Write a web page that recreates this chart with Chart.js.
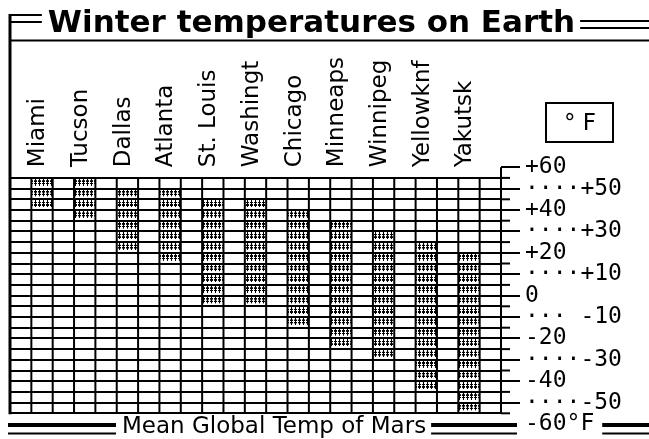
<!DOCTYPE html>
<html>
<head>
<meta charset="utf-8">
<script src="https://cdn.jsdelivr.net/npm/chart.js@4.4.1/dist/chart.umd.min.js"></script>
<style>
  html, body { margin: 0; padding: 0; background: #fff; }
  #wrap { width: 649px; height: 439px; }
</style>
</head>
<body>
<div id="wrap"><canvas id="chart"></canvas></div>
<script>
// data (deg F): each bar hangs from winterHigh down to winterLow
const cities = ['Miami', 'Tucson', 'Dallas', 'Atlanta', 'St. Louis', 'Washingt', 'Chicago', 'Minneaps', 'Winnipeg', 'Yellowknf', 'Yakutsk'];
const winterHigh = [55, 55, 50, 50, 45, 45, 40, 35, 30, 25, 20];
const winterLow = [40, 35, 20, 15, -5, -5, -15, -25, -30, -45, -55];
const tickValues = [60, 50, 40, 30, 20, 10, 0, -10, -20, -30, -40, -50, -60];
const tickLabels = ['+60', '····+50', '+40', '····+30', '+20', '····+10', '0', '··· -10', '-20', '····-30', '-40', '····-50', '-60°F'];
const marsTemp = -60;
const marsLabel = 'Mean Global Temp of Mars';
const unitLabel = '° F';
const titleText = 'Winter temperatures on Earth';

const gridTop = 55, gridBottom = -55;
const cols = cities.length * 2 + 1;
const labelFont = 'DejaVu Sans';
const monoFont = 'DejaVu Sans Mono';

function hatch(context) {
  const chart = context.chart;
  const xs = chart.scales.x, ys = chart.scales.y;
  if (!xs || !ys) return '#888';
  const rowH = ys.getPixelForValue(gridTop - 5) - ys.getPixelForValue(gridTop);
  const t = document.createElement('canvas');
  t.width = 4; t.height = 30;
  const c = t.getContext('2d');
  c.fillStyle = '#000';
  c.fillRect(1, 2, 1, 20);
  c.fillRect(0, 7, 3, 4);
  c.fillRect(0, 14, 3, 4);
  const p = chart.ctx.createPattern(t, 'repeat');
  p.setTransform(new DOMMatrix().translate(xs.getPixelForValue(0), ys.getPixelForValue(gridTop)).scale(1, rowH / 30));
  return p;
}

function line(ctx, x1, y1, x2, y2, w) {
  ctx.lineWidth = w;
  ctx.beginPath();
  ctx.moveTo(x1, y1);
  ctx.lineTo(x2, y2);
  ctx.stroke();
}

const frame = {
  id: 'frame',
  afterLayout(chart) {
    // the title sits a little left of the page centre
    chart.titleBlock.right -= 36;
  },
  beforeDraw(chart) {
    const ctx = chart.ctx;
    ctx.save();
    ctx.fillStyle = '#fff';
    ctx.fillRect(0, 0, chart.width, chart.height);
    ctx.restore();
  },
  afterDatasetsDraw(chart) {
    const {ctx, chartArea} = chart;
    const xs = chart.scales.x, ys = chart.scales.y;
    const top = ys.getPixelForValue(gridTop), bot = ys.getPixelForValue(gridBottom);
    ctx.save();
    ctx.strokeStyle = '#000';
    // column lines
    for (let k = 1; k < cols; k++) {
      const px = xs.getPixelForValue(k);
      line(ctx, px, top, px, bot, 2);
    }
    // axis line from +60 down
    line(ctx, chartArea.right, ys.getPixelForValue(60), chartArea.right, bot, 2);
    // short ticks on the in-between grid lines
    for (let v = gridBottom; v <= gridTop; v += 10) {
      const py = ys.getPixelForValue(v);
      line(ctx, chartArea.right, py, chartArea.right + 9, py, 2);
    }
    ctx.restore();
  },
  afterDraw(chart) {
    const {ctx, chartArea, width} = chart;
    const ys = chart.scales.y;
    const bot = ys.getPixelForValue(gridBottom);
    ctx.save();
    ctx.strokeStyle = '#000';
    ctx.fillStyle = '#000';

    // title rules
    const tb = chart.titleBlock;
    ctx.font = 'bold 31px ' + labelFont;
    const tw = ctx.measureText(titleText).width;
    const tcx = (tb.left + tb.right) / 2;
    line(ctx, chartArea.left - 1, 15, tcx - tw / 2 - 6, 15, 2);
    line(ctx, chartArea.left, 22, tcx - tw / 2 - 6, 22, 2);
    line(ctx, tcx + tw / 2 + 5, 21, width, 21, 2);
    line(ctx, tcx + tw / 2 + 5, 28, width, 28, 2);
    line(ctx, chartArea.left, 40.5, width, 40.5, 2);
    // left border
    line(ctx, chartArea.left, 14, chartArea.left, bot + 1, 3);

    // unit box
    ctx.lineWidth = 2;
    ctx.strokeRect(546, 103, 67, 39);
    ctx.font = '23px ' + labelFont;
    ctx.textAlign = 'center';
    ctx.textBaseline = 'middle';
    ctx.fillText(unitLabel, 580, 124);

    // Mars reference line at -60
    const ym = ys.getPixelForValue(marsTemp);
    ctx.font = '23px ' + labelFont;
    ctx.textAlign = 'left';
    const mx = chartArea.left + 112;
    const mw = ctx.measureText(marsLabel).width;
    ctx.fillText(marsLabel, mx, ym + 3);
    ctx.font = '23px ' + monoFont;
    const lx = chartArea.right + 19 + 5 + ctx.measureText(tickLabels[tickLabels.length - 1]).width;
    const segs = [[chartArea.left - 2, mx - 6], [mx + mw + 5, chartArea.right + 16], [lx + 8, width]];
    for (const [a, b] of segs) {
      line(ctx, a, ym + 1, b, ym + 1, 4);
      line(ctx, a, ym + 9.5, b, ym + 9.5, 2);
    }
    ctx.restore();
  }
};

new Chart(document.getElementById('chart'), {
  type: 'bar',
  data: {
    datasets: [{
      data: cities.map((c, i) => ({x: 2 * i + 1.5, y: [winterLow[i], winterHigh[i]]})),
      backgroundColor: hatch,
      borderWidth: 0,
      categoryPercentage: 0.5,
      barPercentage: 1.0
    }]
  },
  options: {
    responsive: true,
    maintainAspectRatio: false,
    animation: false,
    devicePixelRatio: 1,
    layout: { padding: { left: 10, right: 0, top: 0, bottom: 15 } },
    plugins: {
      legend: { display: false },
      tooltip: { enabled: false },
      title: {
        display: true,
        text: titleText,
        color: '#000',
        font: { family: labelFont, size: 31, weight: 'bold' },
        padding: { top: 5, bottom: 0 }
      }
    },
    scales: {
      x: {
        type: 'linear',
        position: 'top',
        offset: false,
        min: 0,
        max: cols,
        grid: { display: false, drawTicks: false },
        border: { display: false },
        afterBuildTicks: s => { s.ticks = cities.map((c, i) => ({ value: 2 * i + 1.5 })); },
        afterFit: s => { s.height = 125; },
        ticks: {
          autoSkip: false,
          minRotation: 90,
          maxRotation: 90,
          padding: 0,
          labelOffset: 24,
          color: '#000',
          font: { family: labelFont, size: 23 },
          callback: (v, i) => cities[i]
        }
      },
      y: {
        position: 'right',
        min: -60,
        max: 60,
        afterFit: s => { s.width = 148; s.paddingTop = 0; s.paddingBottom = 0; },
        border: { display: false },
        grid: {
          z: 1,
          lineWidth: 2,
          color: c => Math.abs(c.tick.value) === 60 ? 'rgba(0,0,0,0)' : '#000',
          tickLength: 19,
          tickWidth: 2,
          tickColor: c => (c.tick.value % 10 === 0 && c.tick.value !== marsTemp) ? '#000' : 'rgba(0,0,0,0)'
        },
        ticks: {
          stepSize: 5,
          autoSkip: false,
          padding: 5,
          color: '#000',
          font: { family: monoFont, size: 23 },
          callback: v => { const i = tickValues.indexOf(v); return i < 0 ? '' : tickLabels[i]; }
        }
      }
    }
  },
  plugins: [frame]
});
</script>
</body>
</html>
